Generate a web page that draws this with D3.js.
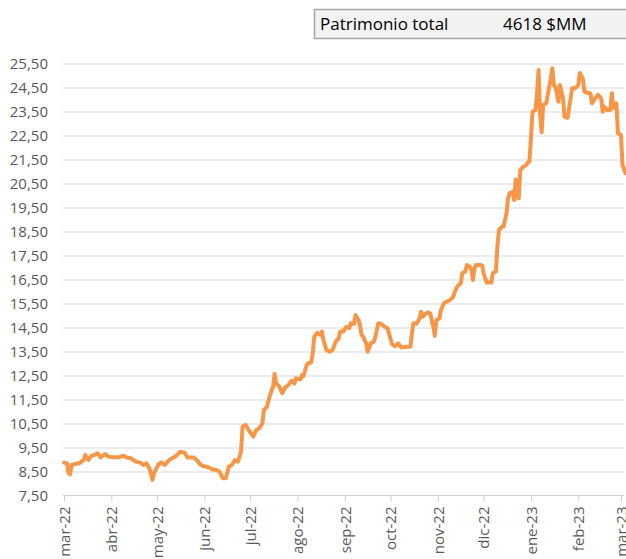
<!DOCTYPE html>
<html>
<head>
<meta charset="utf-8">
<script src="https://cdn.jsdelivr.net/npm/d3@7"></script>
<style>
  html, body { margin: 0; padding: 0; background: #ffffff; }
  svg { display: block; }
  text { font-family: "Open Sans", "Noto Sans", sans-serif; }
</style>
</head>
<body>
<svg id="chart" width="626" height="559"></svg>
<script>
// ---- data ----
const headerLabel = "Patrimonio total";
const headerValue = "4618 $MM";

const monthTickDates = ["2022-03-01","2022-04-01","2022-05-01","2022-06-01","2022-07-01","2022-08-01",
  "2022-09-01","2022-10-01","2022-11-01","2022-12-01","2023-01-01","2023-02-01","2023-03-01"];
const monthTickLabels = ["mar-22","abr-22","may-22","jun-22","jul-22","ago-22","sep-22","oct-22",
  "nov-22","dic-22","ene-23","feb-23","mar-23"];
const yTickValues = [7.5,8.5,9.5,10.5,11.5,12.5,13.5,14.5,15.5,16.5,17.5,18.5,19.5,20.5,21.5,22.5,23.5,24.5,25.5];

const dates = [
 "2022-03-01","2022-03-03","2022-03-04","2022-03-05","2022-03-06","2022-03-08","2022-03-11","2022-03-14",
 "2022-03-15","2022-03-17","2022-03-19","2022-03-21","2022-03-23","2022-03-25","2022-03-28","2022-03-30",
 "2022-04-02","2022-04-06","2022-04-09","2022-04-11","2022-04-14","2022-04-17","2022-04-20","2022-04-22",
 "2022-04-24","2022-04-26","2022-04-28","2022-04-29","2022-05-02","2022-05-04","2022-05-06","2022-05-09",
 "2022-05-13","2022-05-16","2022-05-19","2022-05-21","2022-05-25","2022-05-27","2022-05-29","2022-05-31",
 "2022-06-04","2022-06-06","2022-06-09","2022-06-11","2022-06-13","2022-06-15","2022-06-17","2022-06-19",
 "2022-06-21","2022-06-23","2022-06-25","2022-06-26","2022-06-28","2022-06-30","2022-07-03","2022-07-05",
 "2022-07-07","2022-07-09","2022-07-10","2022-07-12","2022-07-14","2022-07-16","2022-07-17","2022-07-18",
 "2022-07-20","2022-07-22","2022-07-24","2022-07-26","2022-07-28","2022-07-30","2022-07-31","2022-08-03",
 "2022-08-04","2022-08-05","2022-08-07","2022-08-08","2022-08-10","2022-08-11","2022-08-12","2022-08-14",
 "2022-08-16","2022-08-17","2022-08-18","2022-08-20","2022-08-22","2022-08-24","2022-08-26","2022-08-28",
 "2022-08-29","2022-08-31","2022-09-02","2022-09-04","2022-09-05","2022-09-07","2022-09-08","2022-09-10",
 "2022-09-11","2022-09-12","2022-09-13","2022-09-15","2022-09-16","2022-09-18","2022-09-20","2022-09-21",
 "2022-09-23","2022-09-25","2022-09-27","2022-09-29","2022-10-02","2022-10-04","2022-10-06","2022-10-08",
 "2022-10-12","2022-10-14","2022-10-15","2022-10-16","2022-10-18","2022-10-20","2022-10-21","2022-10-22",
 "2022-10-25","2022-10-27","2022-10-29","2022-10-30","2022-10-31","2022-11-02","2022-11-03","2022-11-05",
 "2022-11-07","2022-11-09","2022-11-11","2022-11-13","2022-11-14","2022-11-16","2022-11-17","2022-11-19",
 "2022-11-20","2022-11-22","2022-11-23","2022-11-24","2022-11-25","2022-11-26","2022-11-29","2022-11-30",
 "2022-12-01","2022-12-03","2022-12-06","2022-12-07","2022-12-09","2022-12-10","2022-12-11","2022-12-13",
 "2022-12-14","2022-12-16","2022-12-17","2022-12-18","2022-12-20","2022-12-21","2022-12-22","2022-12-24",
 "2022-12-25","2022-12-27","2022-12-29","2022-12-30","2022-12-31","2023-01-01","2023-01-02","2023-01-04",
 "2023-01-05","2023-01-06","2023-01-07","2023-01-08","2023-01-09","2023-01-11","2023-01-12","2023-01-14",
 "2023-01-15","2023-01-16","2023-01-17","2023-01-19","2023-01-20","2023-01-22","2023-01-23","2023-01-25",
 "2023-01-27","2023-01-28","2023-01-30","2023-02-01","2023-02-02","2023-02-04","2023-02-05","2023-02-08",
 "2023-02-09","2023-02-10","2023-02-12","2023-02-14","2023-02-16","2023-02-17","2023-02-18","2023-02-20",
 "2023-02-22","2023-02-23","2023-02-24","2023-02-26","2023-02-27","2023-03-01","2023-03-02","2023-03-04"
];
const values = [
 8.87,8.84,8.43,8.38,8.77,8.81,8.84,8.98,
 9.19,8.98,9.15,9.19,9.26,9.09,9.23,9.12,
 9.09,9.09,9.16,9.08,9.05,8.91,8.87,8.77,
 8.84,8.63,8.15,8.43,8.81,8.87,8.77,8.98,
 9.12,9.32,9.28,9.08,9.08,8.98,8.81,8.73,
 8.67,8.59,8.56,8.49,8.22,8.22,8.70,8.77,
 8.98,8.91,9.32,10.37,10.44,10.23,9.95,10.23,
 10.30,10.51,11.06,11.20,11.69,12.03,12.56,12.17,
 12.05,11.76,12.01,12.10,12.28,12.17,12.38,12.34,
 12.52,12.48,12.94,13.01,13.04,13.42,14.12,14.28,
 14.19,14.33,13.98,13.56,13.49,13.56,13.91,14.05,
 14.33,14.33,14.53,14.47,14.68,14.65,15.02,14.81,
 14.60,14.19,14.12,13.84,13.49,13.84,13.91,14.09,
 14.68,14.65,14.53,14.47,13.80,13.72,13.84,13.67,
 13.70,13.70,14.26,14.68,14.66,14.88,15.16,14.95,
 15.13,15.09,14.53,14.15,14.81,14.88,15.23,15.51,
 15.58,15.65,15.78,16.13,16.23,16.34,16.76,16.83,
 17.10,17.03,16.90,16.48,16.97,17.10,17.10,17.08,
 16.76,16.37,16.37,16.76,16.83,17.87,18.56,18.70,
 18.70,19.26,19.88,20.09,20.16,19.81,20.67,19.88,
 21.06,21.20,21.27,21.38,21.41,22.40,23.49,23.56,
 24.26,25.23,23.35,22.63,23.77,23.84,24.19,24.88,
 25.30,24.60,24.53,23.91,24.60,24.05,23.28,23.24,
 24.05,24.47,24.47,24.60,25.10,24.88,24.33,24.26,
 24.26,23.84,24.05,24.19,24.05,23.49,23.70,23.56,
 23.56,24.26,23.65,23.84,22.59,22.52,21.27,20.93
];

// ---- chart ----
const parse = d3.timeParse("%Y-%m-%d");
const series = dates.map((d, i) => ({ date: parse(d), value: values[i] }));

const svg = d3.select("#chart");
const x = d3.scaleTime()
  .domain([parse("2022-03-01"), parse("2023-03-01")])
  .range([64, 621]);
const y = d3.scaleLinear().domain([7.5, 25.5]).range([495.5, 63.5]);

const locale = d3.formatLocale({ decimal: ",", thousands: ".", grouping: [3], currency: ["", "$"] });
const fmt = locale.format(".2f");

// gridlines
const gridG = svg.append("g")
  .attr("transform", "translate(0,0)")
  .call(d3.axisLeft(y).tickValues(yTickValues.slice(1)).tickSize(-(624 - 63)).tickFormat(""))
  .attr("transform", "translate(63,0)");
gridG.select(".domain").remove();
gridG.selectAll("line").attr("stroke", "#d9d9d9").attr("stroke-width", 1);

// y labels
const yAxisG = svg.append("g")
  .attr("transform", "translate(48,0)")
  .call(d3.axisLeft(y).tickValues(yTickValues).tickSize(0).tickPadding(0).tickFormat(fmt));
yAxisG.select(".domain").remove();
yAxisG.selectAll("text")
  .attr("fill", "#595959")
  .style("font-size", "15px")
  .style("font-family", "'Open Sans', 'Noto Sans', sans-serif");

// x axis
const xAxisG = svg.append("g")
  .attr("transform", "translate(0,495.5)")
  .call(d3.axisBottom(x)
    .tickValues(monthTickDates.map(parse))
    .tickSize(6)
    .tickFormat((d, i) => monthTickLabels[i]));
xAxisG.select(".domain")
  .attr("d", "M63,0H624")
  .attr("stroke", "#d0d0d0");
xAxisG.selectAll(".tick line").attr("stroke", "#d0d0d0");
xAxisG.selectAll("text")
  .attr("fill", "#595959")
  .style("font-size", "15px")
  .style("font-family", "'Open Sans', 'Noto Sans', sans-serif")
  .attr("text-anchor", "end")
  .attr("transform", "rotate(-90)")
  .attr("x", -11)
  .attr("y", 0)
  .attr("dy", "0.35em");

// line
const line = d3.line().x(d => x(d.date)).y(d => y(d.value));
svg.append("path")
  .datum(series)
  .attr("fill", "none")
  .attr("stroke", "#f79646")
  .attr("stroke-width", 4)
  .attr("stroke-linejoin", "round")
  .attr("stroke-linecap", "round")
  .attr("d", line);

// header box
svg.append("rect")
  .attr("x", 314.5).attr("y", 9.5)
  .attr("width", 320).attr("height", 29)
  .attr("fill", "#f2f2f2")
  .attr("stroke", "#a6a6a6")
  .attr("stroke-width", 1.5);
svg.append("text")
  .attr("x", 320).attr("y", 30)
  .attr("fill", "#000")
  .style("font-size", "17px")
  .text(headerLabel);
svg.append("text")
  .attr("x", 503).attr("y", 30)
  .attr("fill", "#000")
  .style("font-size", "17px")
  .text(headerValue);
</script>
</body>
</html>
